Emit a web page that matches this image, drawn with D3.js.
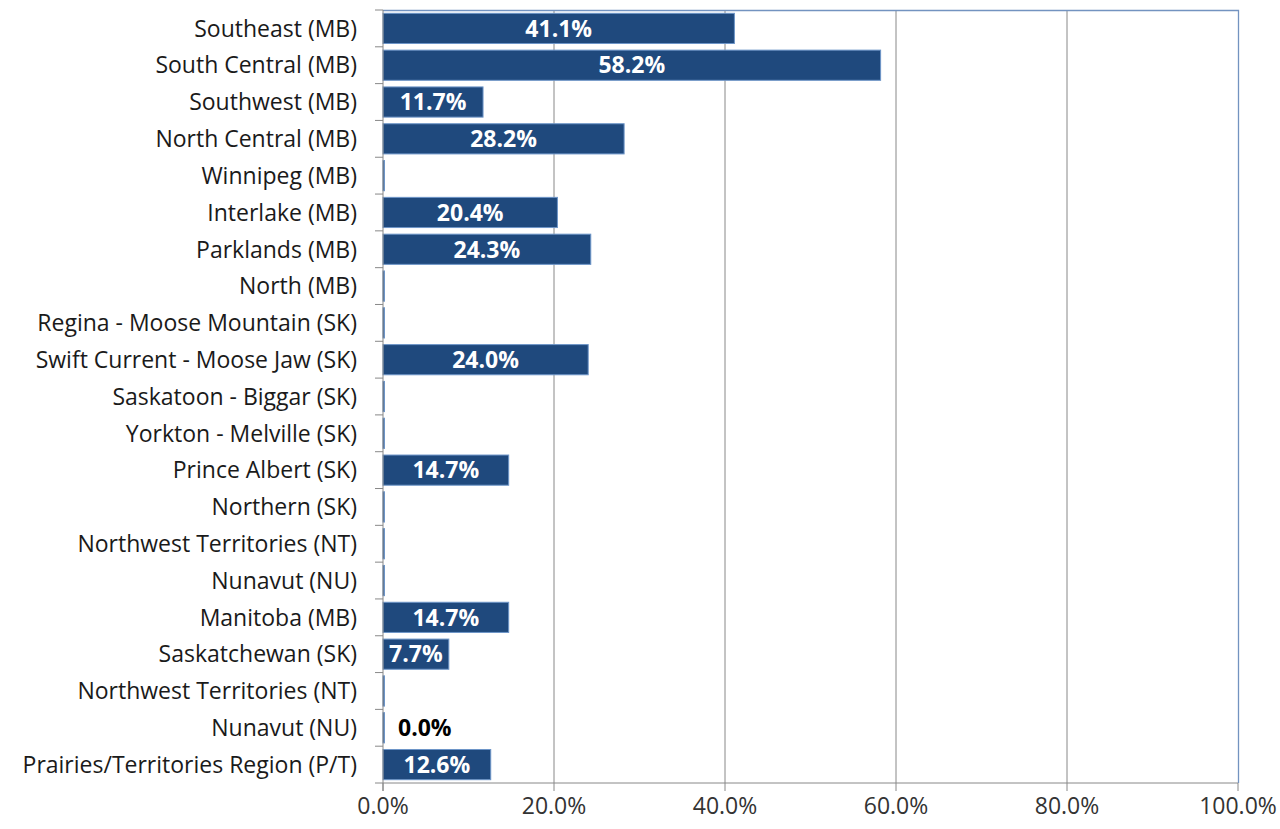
<!DOCTYPE html>
<html>
<head>
<meta charset="utf-8">
<script src="https://cdn.jsdelivr.net/npm/d3@7"></script>
<style>
  body { margin: 0; background: #fff; }
  svg text { font-family: "Open Sans", "Noto Sans", sans-serif; }
</style>
</head>
<body>
<svg id="chart" width="1280" height="829"></svg>
<script>
const regions = [
  "Southeast (MB)", "South Central (MB)", "Southwest (MB)", "North Central (MB)",
  "Winnipeg (MB)", "Interlake (MB)", "Parklands (MB)", "North (MB)",
  "Regina - Moose Mountain (SK)", "Swift Current - Moose Jaw (SK)",
  "Saskatoon - Biggar (SK)", "Yorkton - Melville (SK)", "Prince Albert (SK)",
  "Northern (SK)", "Northwest Territories (NT)", "Nunavut (NU)",
  "Manitoba (MB)", "Saskatchewan (SK)", "Northwest Territories (NT)",
  "Nunavut (NU)", "Prairies/Territories Region (P/T)"
];
const shares = [41.1, 58.2, 11.7, 28.2, 0, 20.4, 24.3, 0, 0, 24.0, 0, 0, 14.7, 0, 0, 0, 14.7, 7.7, 0, 0, 12.6];
// which bars carry a data label
const labelled = [1, 1, 1, 1, 0, 1, 1, 0, 0, 1, 0, 0, 1, 0, 0, 0, 1, 1, 0, 1, 1];
const ticks = [0, 20, 40, 60, 80, 100];

const svg = d3.select("#chart");
const m = { left: 383, right: 42, top: 10, bottom: 46 };
const W = 1280, H = 829;
const fs = 23;

const rows = regions.map((r, i) => ({ key: i, name: r, v: shares[i], lab: labelled[i] }));

const x = d3.scaleLinear().domain([0, 100]).range([m.left, W - m.right]);
const y = d3.scaleBand().domain(rows.map(d => d.key)).range([m.top, H - m.bottom]).paddingInner(0.18).paddingOuter(0.09);

// gridlines
svg.append("g").selectAll("line").data(ticks.slice(1, -1)).join("line")
  .attr("x1", d => x(d)).attr("x2", d => x(d))
  .attr("y1", m.top).attr("y2", H - m.bottom)
  .attr("stroke", "#888").attr("stroke-width", 1);

// plot border top/right
svg.append("path")
  .attr("d", `M${m.left},${m.top + 0.5}H${x(100) + 0.5}V${H - m.bottom}`)
  .attr("fill", "none").attr("stroke", "#7393c0").attr("stroke-width", 1.3);

// bars
svg.append("g").selectAll("rect").data(rows).join("rect")
  .attr("x", x(0))
  .attr("y", d => y(d.key))
  .attr("width", d => Math.max(1.5, x(d.v) - x(0)))
  .attr("height", y.bandwidth())
  .attr("fill", "#1f497d")
  .attr("stroke", "#6d95c8").attr("stroke-width", 1);

// data labels
svg.append("g").selectAll("text").data(rows.filter(d => d.lab)).join("text")
  .attr("x", d => d.v > 0 ? (x(0) + x(d.v)) / 2 : x(0) + 15)
  .attr("y", d => y(d.key) + y.bandwidth() / 2)
  .attr("dy", "0.36em")
  .attr("text-anchor", d => d.v > 0 ? "middle" : "start")
  .attr("font-size", fs).attr("font-weight", "bold")
  .attr("fill", d => d.v > 0 ? "#fff" : "#000")
  .text(d => d.v.toFixed(1) + "%");

// y axis
const yAxis = svg.append("g").attr("transform", `translate(${m.left},0)`);
yAxis.append("line").attr("x1", 0).attr("x2", 0).attr("y1", m.top).attr("y2", H - m.bottom + 8)
  .attr("stroke", "#888");
const bounds = d3.range(rows.length + 1).map(i => m.top + i * (H - m.top - m.bottom) / rows.length);
yAxis.selectAll("line.tk").data(bounds).join("line").attr("class", "tk")
  .attr("x1", -8).attr("x2", 0).attr("y1", d => d).attr("y2", d => d).attr("stroke", "#888");
yAxis.selectAll("text").data(rows).join("text")
  .attr("x", -26)
  .attr("y", d => y(d.key) + y.bandwidth() / 2)
  .attr("dy", "0.36em")
  .attr("text-anchor", "end")
  .attr("font-size", fs).attr("fill", "#1a1a1a")
  .text(d => d.name);

// x axis
const xAxis = svg.append("g").attr("transform", `translate(0,${H - m.bottom})`);
xAxis.append("line").attr("x1", m.left).attr("x2", x(100)).attr("stroke", "#888");
xAxis.selectAll("line.tk").data(ticks).join("line").attr("class", "tk")
  .attr("x1", d => x(d)).attr("x2", d => x(d)).attr("y1", 0).attr("y2", 8).attr("stroke", "#888");
xAxis.selectAll("text").data(ticks).join("text")
  .attr("x", d => x(d)).attr("y", 31)
  .attr("text-anchor", "middle")
  .attr("font-size", fs).attr("fill", "#333")
  .text(d => d.toFixed(1) + "%");
</script>
</body>
</html>
